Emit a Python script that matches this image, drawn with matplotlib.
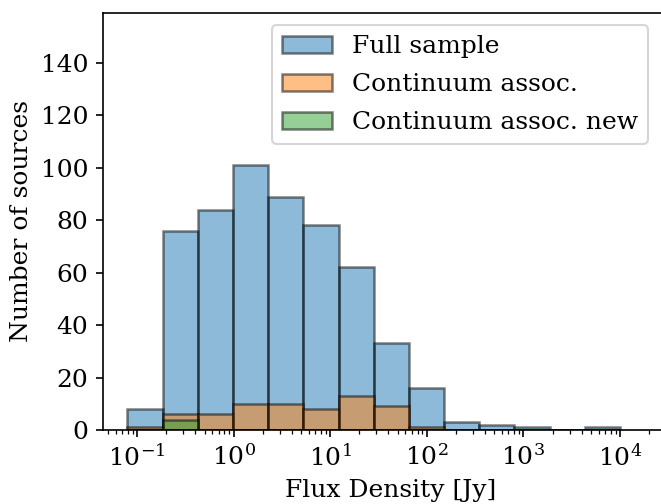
import matplotlib
matplotlib.use("Agg")
import matplotlib.pyplot as plt
import numpy as np

plt.rcParams["font.family"] = "DejaVu Serif"
plt.rcParams["mathtext.fontset"] = "dejavuserif"
plt.rcParams["font.size"] = 12

# log10 bin edges of the flux density histogram
BIN_EDGES = np.logspace(-1.1, 4.0, 15)

FULL_SAMPLE = [8, 76, 84, 101, 89, 78, 62, 33, 16, 3, 2, 1, 0, 1]
CONT_ASSOC = [1, 6, 6, 10, 10, 8, 13, 9, 1, 0, 0, 0, 0, 0]
CONT_ASSOC_NEW = [0, 4, 0, 0, 0, 0, 0, 0, 0, 0, 0, 0, 0, 0]

SERIES = [
    ("Full sample", FULL_SAMPLE, "tab:blue"),
    ("Continuum assoc.", CONT_ASSOC, "tab:orange"),
    ("Continuum assoc. new", CONT_ASSOC_NEW, "tab:green"),
]


def main():
    dpi = 150
    fig = plt.figure(figsize=(661 / dpi, 504 / dpi), dpi=dpi)
    # axes runs past the right border, as in the cropped original
    ax = fig.add_axes([103 / 661, 74 / 504, 575 / 661, 417 / 504])

    left = BIN_EDGES[:-1]
    widths = np.diff(BIN_EDGES)
    for label, counts, color in SERIES:
        ax.bar(left, counts, width=widths, align="edge", color=color,
               alpha=0.5, edgecolor="black", linewidth=1.2, label=label)

    ax.set_xscale("log")
    ax.set_xlim(10 ** -1.353, 10 ** 4.6)
    ax.set_ylim(0, 159)
    ax.set_yticks(range(0, 141, 20))
    ax.spines["right"].set_visible(False)

    ax.set_xlabel("Flux Density [Jy]")
    ax.set_ylabel("Number of sources")

    ax.legend(loc="upper right", bbox_to_anchor=(648 / 661, 1 - 25 / 504),
              bbox_transform=fig.transFigure, borderaxespad=0,
              labelspacing=0.6)

    fig.savefig("out.png", dpi=dpi)
    plt.close(fig)


if __name__ == "__main__":
    main()
